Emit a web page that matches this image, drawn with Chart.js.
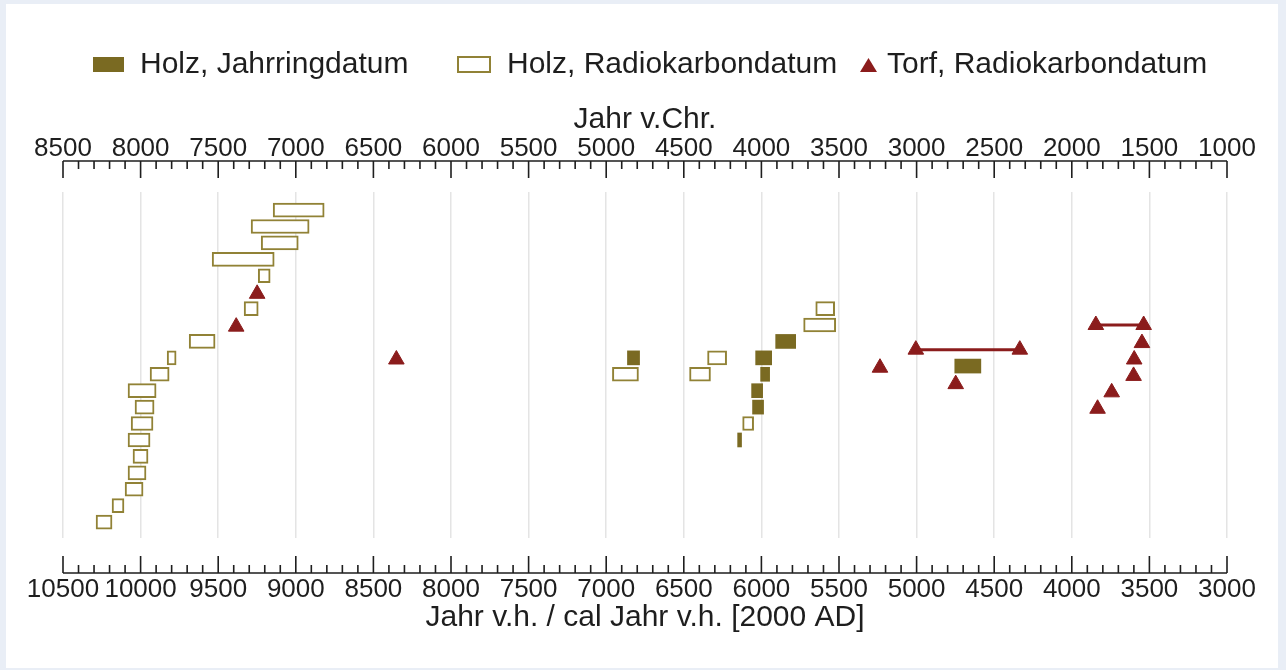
<!DOCTYPE html>
<html>
<head>
<meta charset="utf-8">
<script src="https://cdn.jsdelivr.net/npm/chart.js@4.4.0/dist/chart.umd.min.js"></script>
<style>
body{margin:0;background:#e9eef6;}
canvas{display:block;}
</style>
</head>
<body>
<canvas id="chart" width="1286" height="670"></canvas>
<script>
// all years are "Jahr v.h." (BP, 2000 AD); rows count from the top

// Holz, Radiokarbondatum (hollow boxes)
var hollowRows = [0, 1, 2, 3, 4, 6, 8, 9, 10, 11, 12, 13, 14, 15, 16, 17, 18, 19, 10, 9, 10, 13, 6, 7]
var hollowFrom = [9146, 9288, 9223, 9539, 9242, 9333, 9687, 9829, 9939, 10081, 10036, 10061, 10081, 10049, 10081, 10100, 10184, 10287, 6960, 6347, 6463, 6121, 5650, 5728]
var hollowTo   = [8817, 8914, 8984, 9139, 9165, 9242, 9520, 9771, 9816, 9900, 9913, 9920, 9939, 9952, 9965, 9984, 10107, 10184, 6792, 6224, 6328, 6050, 5528, 5521]

// Holz, Jahrringdatum (filled boxes)
var filledRows = [9, 8, 9, 10, 11, 12, 14, 9.5]
var filledFrom = [6863, 5908, 6037, 6005, 6063, 6057, 6153, 4754]
var filledTo   = [6785, 5779, 5934, 5947, 5992, 5986, 6128, 4586]

// Torf, Radiokarbondatum (triangles)
var torfRows  = [5.1, 7.1, 9.1, 9.6, 10.6, 8.1, 9.1, 10.1, 11.1, 12.1]
var torfYears = [9249, 9384, 8352, 5236, 4748, 3548, 3598, 3602, 3743, 3834]

// Torf ranges (two triangles joined by a line)
var rangeRows = [8.5, 7.0]
var rangeFrom = [5005, 3845]
var rangeTo   = [4335, 3537]

var legendLabels = ["Holz, Jahrringdatum", "Holz, Radiokarbondatum", "Torf, Radiokarbondatum"]

var OLIVE = "#7a6a22"
var OLIVE_LINE = "#918236"
var RED = "#8b1c1c"
var TEXT = "#1e1e1e"
var NONE = "rgba(0,0,0,0)"

Chart.defaults.font.family = "'Liberation Sans', Arial, sans-serif"
Chart.defaults.color = TEXT

function boxes(rows, from, to){
    var out = []
    for(var i in rows){
        out.push({y: rows[i], x: [from[i], to[i]]})
    }
    return out
}

var torfData = []
for(var i in torfRows){
    torfData.push({x: torfYears[i], y: torfRows[i]})
}

var datasets = [{
    type: 'scatter',
    data: torfData,
    pointStyle: 'triangle',
    pointRadius: 9,
    pointBackgroundColor: RED,
    pointBorderColor: RED,
    pointBorderWidth: 1
}]

for(var r in rangeRows){
    datasets.push({
        type: 'line',
        data: [{x: rangeFrom[r], y: rangeRows[r]}, {x: rangeTo[r], y: rangeRows[r]}],
        borderColor: RED,
        borderWidth: 3,
        pointStyle: 'triangle',
        pointRadius: 9,
        pointBackgroundColor: RED,
        pointBorderColor: RED,
        pointBorderWidth: 1
    })
}

datasets.push({
    type: 'bar',
    indexAxis: 'y',
    data: boxes(filledRows, filledFrom, filledTo),
    backgroundColor: OLIVE,
    borderColor: OLIVE,
    borderWidth: 0,
    borderSkipped: false,
    barThickness: 14,
    grouped: false
})

datasets.push({
    type: 'bar',
    indexAxis: 'y',
    data: boxes(hollowRows, hollowFrom, hollowTo),
    backgroundColor: "#ffffff",
    borderColor: OLIVE_LINE,
    borderWidth: 2,
    borderSkipped: false,
    barThickness: 14,
    grouped: false
})

function majorLabel(v){
    return v % 500 === 0 ? String(v) : ''
}

// background frame, legend, axis lines with inward ticks
var decor = {
    id: 'decor',
    beforeDraw: function(chart){
        var ctx = chart.ctx
        ctx.save()
        ctx.fillStyle = "#e9eef6"
        ctx.fillRect(0, 0, chart.width, chart.height)
        ctx.fillStyle = "#ffffff"
        ctx.fillRect(6, 4, chart.width - 14, chart.height - 6)
        ctx.restore()
    },
    afterDraw: function(chart){
        var ctx = chart.ctx
        var area = chart.chartArea
        ctx.save()

        // axes
        ctx.strokeStyle = TEXT
        ctx.lineWidth = 1.6
        var axes = [
            {scale: chart.scales.x, y: area.bottom + 35, dir: -1},
            {scale: chart.scales.x2, y: area.top - 31, dir: 1}
        ]
        for(var a in axes){
            var s = axes[a].scale, y0 = axes[a].y, dir = axes[a].dir
            ctx.beginPath()
            ctx.moveTo(s.getPixelForValue(s.max), y0)
            ctx.lineTo(s.getPixelForValue(s.min), y0)
            for(var t in s.ticks){
                var v = s.ticks[t].value
                var px = s.getPixelForValue(v)
                var len = v % 500 === 0 ? 17 : 8
                ctx.moveTo(px, y0)
                ctx.lineTo(px, y0 + dir * len)
            }
            ctx.stroke()
        }

        // legend
        var ly = 65
        ctx.font = "30px 'Liberation Sans', Arial, sans-serif"
        ctx.textBaseline = 'middle'
        ctx.fillStyle = TEXT
        ctx.fillText(legendLabels[0], 140, ly)
        ctx.fillText(legendLabels[1], 507, ly)
        ctx.fillText(legendLabels[2], 887, ly)

        ctx.fillStyle = OLIVE
        ctx.fillRect(93, 57, 31, 15)

        ctx.fillStyle = "#ffffff"
        ctx.strokeStyle = OLIVE_LINE
        ctx.lineWidth = 2
        ctx.fillRect(458, 57, 32, 15)
        ctx.strokeRect(458, 57, 32, 15)

        ctx.fillStyle = RED
        ctx.beginPath()
        ctx.moveTo(868.5, 58)
        ctx.lineTo(877, 72)
        ctx.lineTo(860, 72)
        ctx.closePath()
        ctx.fill()

        ctx.restore()
    }
}

var myChart = new Chart(document.getElementById("chart"), {
    type: 'scatter',
    data: {datasets: datasets},
    options: {
        responsive: false,
        animation: false,
        layout: {padding: {left: 63, right: 59, top: 105, bottom: 37}},
        plugins: {
            legend: {display: false},
            tooltip: {enabled: false}
        },
        scales: {
            x: {
                type: 'linear',
                position: 'bottom',
                min: 3000,
                max: 10500,
                reverse: true,
                offset: false,
                border: {display: false},
                grid: {
                    drawTicks: true,
                    tickLength: 39,
                    tickColor: NONE,
                    color: function(c){ return c.tick && c.tick.value % 500 === 0 ? '#e4e4e4' : NONE },
                    lineWidth: 1.5
                },
                ticks: {
                    stepSize: 100,
                    autoSkip: false,
                    maxRotation: 0,
                    padding: 0,
                    font: {size: 26, lineHeight: 1},
                    color: TEXT,
                    callback: majorLabel
                },
                title: {
                    display: true,
                    text: 'Jahr v.h. / cal Jahr v.h. [2000 AD]',
                    font: {size: 30, lineHeight: 1},
                    color: TEXT,
                    padding: {top: 0, bottom: 0}
                }
            },
            x2: {
                type: 'linear',
                position: 'top',
                min: 1000,
                max: 8500,
                reverse: true,
                offset: false,
                border: {display: false},
                grid: {
                    drawOnChartArea: false,
                    drawTicks: true,
                    tickLength: 30,
                    tickColor: NONE
                },
                ticks: {
                    stepSize: 100,
                    autoSkip: false,
                    maxRotation: 0,
                    padding: 0,
                    font: {size: 26, lineHeight: 1},
                    color: TEXT,
                    callback: majorLabel
                },
                title: {
                    display: true,
                    text: 'Jahr v.Chr.',
                    font: {size: 30, lineHeight: 1},
                    color: TEXT,
                    padding: {top: 0, bottom: 1}
                }
            },
            y: {
                type: 'linear',
                min: -1.1,
                max: 19.97,
                reverse: true,
                offset: false,
                display: false
            }
        }
    },
    plugins: [decor]
});
</script>
</body>
</html>
